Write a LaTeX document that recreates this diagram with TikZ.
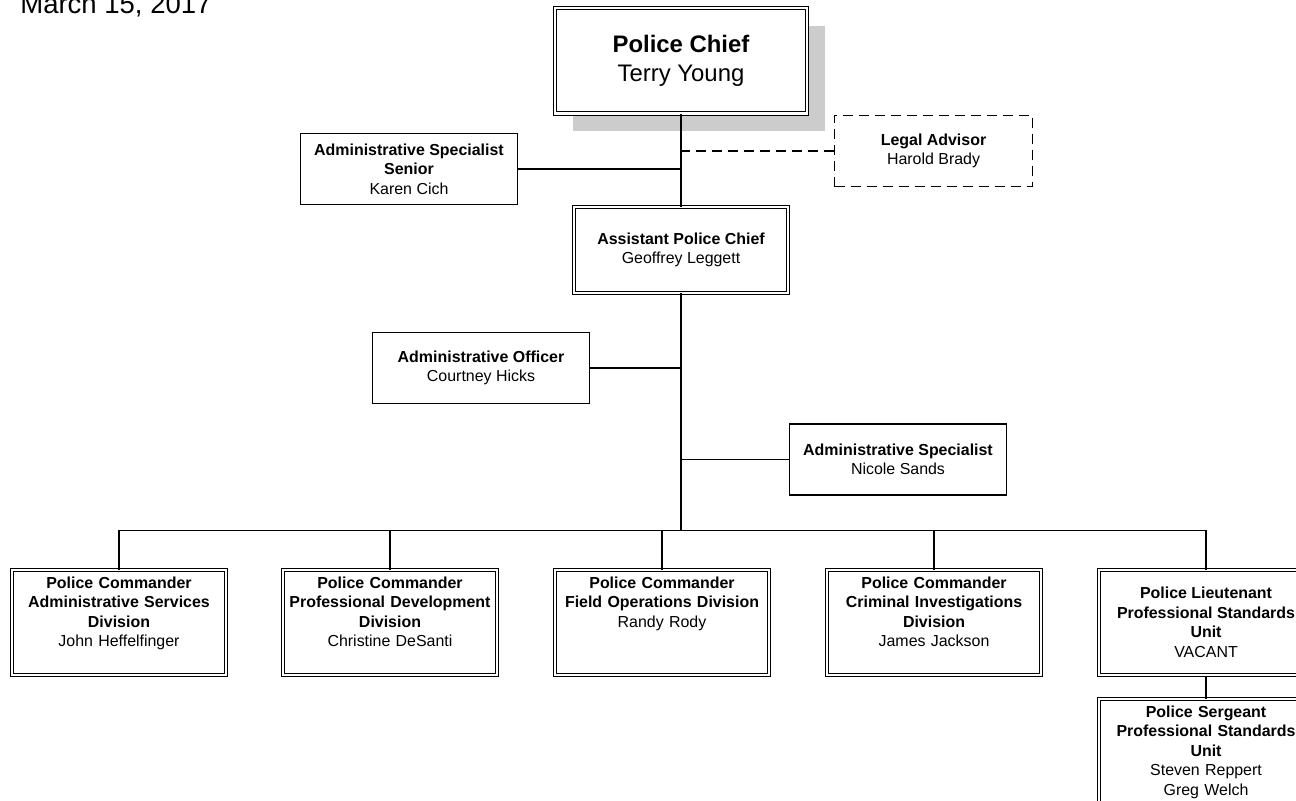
\documentclass[tikz,border=0pt]{standalone}
\usepackage{fontspec}
\setmainfont{Liberation Sans}
\usetikzlibrary{positioning, shadows}
\definecolor{shadowgray}{HTML}{CCCCCC}

\begin{document}
\begin{tikzpicture}[x=0.5bp, y=-0.5bp, on grid,
	font=\fontsize{8}{9.8}\selectfont,
	box/.style={draw, line width=0.6bp, fill=white, align=center, minimum width=108.4bp, minimum height=35.5bp, inner sep=1bp},
	legalbox/.style={box, line width=0.7bp, dash pattern=on 5bp off 3bp, minimum width=98.9bp},
	dbox/.style={draw, line width=0.5bp, double, double distance=1.2bp, fill=white, align=center, inner sep=1bp},
	cmdbox/.style={dbox, text width=104bp, inner xsep=1.5bp, inner ysep=0bp, text height=9bp, text depth=43.5bp},
	link/.style={line width=0.6bp},
	dashlink/.style={link, dash pattern=on 5bp off 3bp}]
	
	\clip (0,0) rectangle (1296,800);
	
	\node (date) [anchor=base west, inner sep=0pt, font=\fontsize{13.8}{16}\selectfont] at (20,13) {March 15, 2017};
	
	\node (chief) [dbox, minimum width=125.8bp, minimum height=52.8bp, font=\fontsize{12}{14.5}\selectfont,
		drop shadow={shadow xshift=9bp, shadow yshift=-9bp, fill=shadowgray, opacity=1}] at (681,60.5)
		{\textbf{Police Chief}\\Terry Young};
	\node (asst) [dbox, below=94.75bp of chief, minimum width=106.8bp, minimum height=42.8bp]
		{\textbf{Assistant Police Chief}\\Geoffrey Leggett};
	\node (senior) [box, below left=54.25bp and 136bp of chief]
		{\textbf{Administrative Specialist}\\\textbf{Senior}\\Karen Cich};
	\node (legal) [legalbox, below right=45.25bp and 126.25bp of chief]
		{\textbf{Legal Advisor}\\Harold Brady};
	\node (officer) [box, below left=59bp and 100bp of asst]
		{\textbf{Administrative Officer}\\Courtney Hicks};
	\node (nsands) [box, below right=104.75bp and 108.5bp of asst]
		{\textbf{Administrative Specialist}\\Nicole Sands};
	
	% divisions
	\node (cmdC) [cmdbox, below left=186.25bp and 9.5bp of asst]
		{\textbf{Police Commander}\\\textbf{Field Operations Division}\\Randy Rody};
	\node (cmdB) [cmdbox, left=136bp of cmdC]
		{\textbf{Police Commander}\\\textbf{Professional Development}\\\textbf{Division}\\Christine DeSanti};
	\node (cmdA) [cmdbox, left=135.5bp of cmdB]
		{\textbf{Police Commander}\\\textbf{Administrative Services}\\\textbf{Division}\\John Heffelfinger};
	\node (cmdD) [cmdbox, right=136bp of cmdC]
		{\textbf{Police Commander}\\\textbf{Criminal Investigations}\\\textbf{Division}\\James Jackson};
	\node (lieut) [dbox, right=136bp of cmdD, minimum width=107bp, minimum height=52.5bp]
		{\textbf{Police Lieutenant}\\\textbf{Professional Standards}\\\textbf{Unit}\\VACANT};
	\node (sgt) [cmdbox, below=68.75bp of lieut, text depth=52bp]
		{\textbf{Police Sergeant}\\\textbf{Professional Standards}\\\textbf{Unit}\\Steven Reppert\\Greg Welch};
	
	\coordinate (bus) at ([yshift=19.5bp]cmdC.north);
	
	\draw [link] (chief) -- (asst);
	\draw [link] (senior) -- (senior -| chief);
	\draw [dashlink] (legal) -- (legal -| chief);
	\draw [link] (officer) -- (officer -| asst);
	\draw [link] (nsands) -- (nsands -| asst);
	\draw [link] (asst) -- (asst |- bus);
	\draw [link] (cmdA.north) |- (lieut |- bus) -- (lieut.north);
	\foreach \n in {cmdB, cmdC, cmdD}
		\draw [link] (\n.north) -- (\n |- bus);
	\draw [link] (lieut) -- (sgt);
\end{tikzpicture}
\end{document}
